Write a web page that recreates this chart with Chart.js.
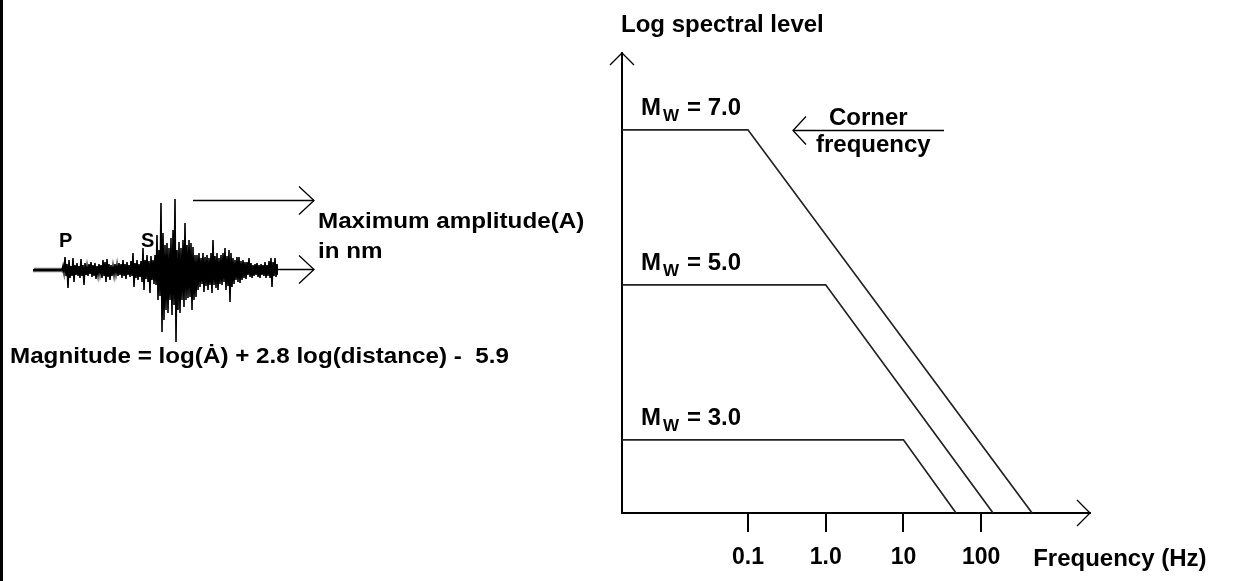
<!DOCTYPE html>
<html>
<head>
<meta charset="utf-8">
<script src="https://cdn.jsdelivr.net/npm/chart.js@4.4.1/dist/chart.umd.min.js"></script>
<style>
  html, body { margin: 0; padding: 0; background: #fff; }
  #page { position: relative; width: 1241px; height: 581px; overflow: hidden; background: #fff; }
  #edge { position: absolute; left: 0; top: 0; width: 3px; height: 581px; background: #000; }
  #seismo { position: absolute; left: 0; top: 0; }
  #spectra { position: absolute; left: 600px; top: 0; }
</style>
</head>
<body>
<div id="page">
  <canvas id="seismo" width="640" height="581"></canvas>
  <canvas id="spectra" width="641" height="581"></canvas>
  <div id="edge"></div>
</div>
<script>
// Seismogram: peak (up) and trough (down) amplitude per sample
const seisUp = [
  1, 1, 1, 1, 1, 1, 1, 1, 1, 1, 1, 1, 1, 1, 1,
  4, 13, 6, 10, 4, 12, 5, 7, 4, 11, 5, 7, 4, 6, 8, 5, 7, 4, 6, 5, 10, 8, 11, 6, 5, 4, 6, 5, 7,
  6, 10, 6, 8, 5, 9, 17, 7, 10, 6, 9, 22, 10, 15, 9, 14, 10, 15, 35, 20,
  67, 37, 25, 27, 22, 32, 40, 71, 20, 28, 22, 30, 47, 25, 30, 27, 23, 15, 15, 17,
  12, 17, 13, 15, 12, 17, 30, 14, 17, 12, 15, 17, 22, 14, 20, 17, 12, 10, 13, 13,
  9, 10, 8, 8, 12, 7, 5, 6, 7, 5, 6, 5, 8, 5, 9, 12, 8, 12, 6
];
const seisDown = [
  1, 1, 1, 1, 1, 1, 1, 1, 1, 1, 1, 1, 1, 1, 1,
  3, 6, 18, 8, 6, 12, 5, 6, 8, 6, 15, 5, 6, 4, 7, 6, 9, 5, 4, 8, 6, 12, 7, 10, 6, 5, 4, 6, 5,
  8, 6, 9, 5, 7, 6, 17, 8, 10, 7, 12, 20, 9, 12, 23, 10, 14, 15, 30, 26,
  62, 50, 40, 43, 30, 45, 35, 72, 40, 43, 30, 37, 30, 28, 27, 40, 30, 27, 20, 17,
  14, 22, 16, 20, 15, 23, 15, 18, 20, 14, 15, 12, 20, 16, 32, 17, 14, 10, 12, 13,
  10, 8, 9, 5, 7, 8, 6, 5, 7, 8, 5, 6, 8, 6, 8, 17, 6, 7, 5
];

// Source spectra (x in log10 Hz, y in log spectral level units)
const magnitudes = ['7.0', '5.0', '3.0'];
const plateauLevels = [8.33, 4.96, 1.59];
const cornerFreqs = [-1, 0, 1];
const axisCrossFreqs = [2.655, 2.153, 1.677];
const freqTicks = [-1, 0, 1, 2];
const freqTickLabels = ['0.1', '1.0', '10', '100'];
const freqMin = -2.62, freqMax = 3.40;
const levelMax = 10;

const FONT = '"Liberation Sans", Arial, sans-serif';

function drawText(ctx, str, x, y, size, stretch) {
    ctx.save();
    ctx.translate(x, y);
    ctx.scale(stretch || 1, 1);
    ctx.font = 'bold ' + size + 'px ' + FONT;
    ctx.fillStyle = '#000';
    ctx.textBaseline = 'alphabetic';
    ctx.fillText(str, 0, 0);
    ctx.restore();
}

function polyline(ctx, pts, width) {
    ctx.save();
    ctx.strokeStyle = '#000';
    ctx.lineWidth = width || 1.3;
    ctx.beginPath();
    pts.forEach((p, i) => i === 0 ? ctx.moveTo(p[0], p[1]) : ctx.lineTo(p[0], p[1]));
    ctx.stroke();
    ctx.restore();
}

// interleave peaks and troughs so the trace zig-zags like the record
const seisPoints = [];
seisUp.forEach((v, i) => {
    seisPoints.push({ x: 2 * i, y: v });
    seisPoints.push({ x: 2 * i + 1, y: -seisDown[i] });
});

const seismoLabels = {
    id: 'seismoLabels',
    afterDraw(chart) {
        const ctx = chart.ctx;
        const area = chart.chartArea;
        const ys = chart.scales.y;
        const peakY = Math.round(ys.getPixelForValue(Math.max(...seisUp))) + 1.5;
        const baseY = Math.round(ys.getPixelForValue(0)) - 0.5;

        // max amplitude arrow
        polyline(ctx, [[193, peakY], [314, peakY]]);
        polyline(ctx, [[299, peakY - 14], [314, peakY], [299, peakY + 14]]);
        // time axis arrow after the trace
        polyline(ctx, [[area.right, baseY], [314, baseY]]);
        polyline(ctx, [[299, baseY - 14], [314, baseY], [299, baseY + 14]]);

        drawText(ctx, 'P', 59, 247, 20);
        drawText(ctx, 'S', 141, 247, 20);
        drawText(ctx, 'Maximum amplitude(A)', 318, 228, 22, 1.1);
        drawText(ctx, 'in nm', 318, 258, 22, 1.1);
        drawText(ctx, 'Magnitude = log(Ȧ) + 2.8 log(distance) -  5.9', 10, 363, 22, 1.1);
    }
};

new Chart(document.getElementById('seismo'), {
    type: 'line',
    data: {
        datasets: [{
            data: seisPoints,
            borderColor: '#000',
            borderWidth: 1.6,
            pointRadius: 0,
            tension: 0
        }]
    },
    options: {
        responsive: false,
        animation: false,
        events: [],
        layout: { padding: { left: 33, right: 362, top: 190, bottom: 231 } },
        plugins: { legend: { display: false }, tooltip: { enabled: false } },
        scales: {
            x: { type: 'linear', display: false, min: 0, max: 245 },
            y: { display: false, min: -80, max: 80 }
        }
    },
    plugins: [seismoLabels]
});

const spectraLabels = {
    id: 'spectraLabels',
    afterDraw(chart) {
        const ctx = chart.ctx;
        const a = chart.chartArea;
        const xs = chart.scales.x, ys = chart.scales.y;

        // arrow heads on both axes
        polyline(ctx, [[a.left - 12, a.top + 12], [a.left, a.top], [a.left + 12, a.top + 12]], 1.3);
        polyline(ctx, [[a.right - 13, a.bottom - 13], [a.right, a.bottom], [a.right - 13, a.bottom + 13]], 1.3);

        drawText(ctx, 'Log spectral level', 21, 32, 24);

        magnitudes.forEach((m, i) => {
            const y = ys.getPixelForValue(plateauLevels[i]) - 15;
            const x = a.left + 19;
            drawText(ctx, 'M', x, y, 24);
            drawText(ctx, 'W', x + 22, y + 6, 17);
            drawText(ctx, '= ' + m, x + 46, y, 24);
        });

        // corner frequency pointer
        const cy = Math.round(ys.getPixelForValue(plateauLevels[0])) + 0.5;
        polyline(ctx, [[193, cy], [344, cy]], 1.3);
        polyline(ctx, [[206, cy - 14], [193, cy], [206, cy + 14]], 1.3);
        drawText(ctx, 'Corner', 229, 125, 24);
        drawText(ctx, 'frequency', 216, 152, 24);

        drawText(ctx, 'Frequency (Hz)', xs.getPixelForValue(freqTicks[freqTicks.length - 1]) + 52, 566, 24);
    }
};

new Chart(document.getElementById('spectra'), {
    type: 'line',
    data: {
        datasets: magnitudes.map((m, i) => ({
            label: 'Mw = ' + m,
            data: [
                { x: freqMin, y: plateauLevels[i] },
                { x: cornerFreqs[i], y: plateauLevels[i] },
                { x: axisCrossFreqs[i], y: 0 }
            ],
            borderColor: '#222',
            borderWidth: 1.7,
            pointRadius: 0,
            tension: 0
        }))
    },
    options: {
        responsive: false,
        animation: false,
        events: [],
        layout: { padding: { left: 22, right: 151, top: 53, bottom: 0 } },
        plugins: { legend: { display: false }, tooltip: { enabled: false } },
        scales: {
            x: {
                type: 'linear',
                min: freqMin,
                max: freqMax,
                afterBuildTicks: (scale) => { scale.ticks = freqTicks.map(v => ({ value: v })); },
                afterFit: (scale) => { scale.height = 68; },
                ticks: {
                    autoSkip: false,
                    maxRotation: 0,
                    padding: 12,
                    color: '#000',
                    font: { family: 'Liberation Sans', size: 23, weight: 'bold' },
                    callback: (value) => freqTickLabels[freqTicks.indexOf(value)]
                },
                grid: { drawOnChartArea: false, drawTicks: true, tickLength: 19, color: '#000', lineWidth: 2 },
                border: { display: true, color: '#000', width: 2 }
            },
            y: {
                min: 0,
                max: levelMax,
                afterFit: (scale) => { scale.width = 0; },
                ticks: { display: false },
                grid: { drawOnChartArea: false, drawTicks: false },
                border: { display: true, color: '#000', width: 2 }
            }
        }
    },
    plugins: [spectraLabels]
});
</script>
</body>
</html>
